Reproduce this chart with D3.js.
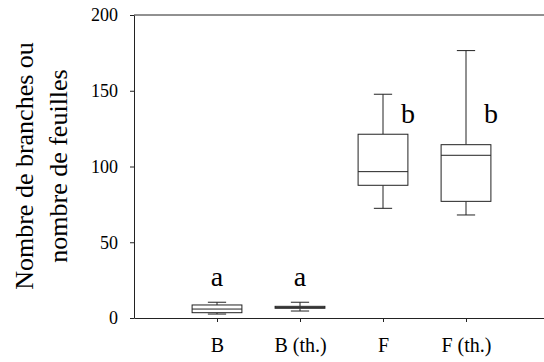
<!DOCTYPE html>
<html><head><meta charset="utf-8">
<script src="https://cdn.jsdelivr.net/npm/d3@7"></script>
<style>body{margin:0;background:#fff}svg{display:block}</style>
</head><body><svg id="c" width="544" height="362"></svg>
<script>
const categories = ["B", "B (th.)", "F", "F (th.)"];
const whiskerMin = [2.6, 4.6, 72.4, 68];
const q1 = [3.5, 6.4, 87.6, 77];
const median = [5.9, 7.0, 96.6, 107.4];
const q3 = [8.6, 7.7, 121.3, 114.4];
const whiskerMax = [10.4, 10.4, 147.7, 176.5];
const letters = ["a", "a", "b", "b"];
const letterValue = [21, 21, 129, 129];
const yTicks = [0, 50, 100, 150, 200];
const yTitle = ["Nombre de branches ou", "nombre de feuilles"];

const FONT = "Liberation Serif";
const svg = d3.select("#c");
const x = d3.scalePoint().domain(categories).range([134, 549]).padding(1);
const y = d3.scaleLinear().domain([0, 200]).range([318, 15]);
const step = x.step();
const boxW = step * 0.6, capW = step * 0.22;
const col = "#222";

svg.append("line").attr("x1", x.range()[0]).attr("x2", x.range()[1])
  .attr("y1", y(200)).attr("y2", y(200)).attr("stroke", col).attr("stroke-width", 1);

const yAxis = svg.append("g").attr("transform", `translate(${x.range()[0]},0)`)
  .call(d3.axisLeft(y).tickValues(yTicks).tickSize(4).tickSizeOuter(0).tickPadding(12));
yAxis.attr("font-family", FONT).attr("font-size", 18);
yAxis.selectAll("text").style("font-family", FONT).style("font-size", "18px");
const xAxis = svg.append("g").attr("transform", `translate(0,${y(0)})`)
  .call(d3.axisBottom(x).tickSize(4).tickSizeOuter(0).tickPadding(16));
xAxis.attr("font-family", FONT).attr("font-size", 20);
xAxis.selectAll("text").style("font-family", FONT).style("font-size", "20px");
svg.selectAll(".domain, .tick line").attr("stroke", col);
svg.selectAll(".tick text").attr("fill", "#000");

const data = categories.map((c, i) => ({c, lo: whiskerMin[i], q1: q1[i], med: median[i], q3: q3[i], hi: whiskerMax[i]}));
const g = svg.append("g").attr("stroke", col).attr("stroke-width", 1).attr("fill", "none");
data.forEach(d => {
  const cx = x(d.c);
  g.append("line").attr("x1", cx).attr("x2", cx).attr("y1", y(d.hi)).attr("y2", y(d.q3));
  g.append("line").attr("x1", cx).attr("x2", cx).attr("y1", y(d.q1)).attr("y2", y(d.lo));
  g.append("line").attr("x1", cx - capW/2).attr("x2", cx + capW/2).attr("y1", y(d.hi)).attr("y2", y(d.hi));
  g.append("line").attr("x1", cx - capW/2).attr("x2", cx + capW/2).attr("y1", y(d.lo)).attr("y2", y(d.lo));
  g.append("rect").attr("x", cx - boxW/2).attr("width", boxW)
    .attr("y", y(d.q3)).attr("height", y(d.q1) - y(d.q3)).attr("fill", "#fff");
  g.append("line").attr("x1", cx - boxW/2).attr("x2", cx + boxW/2).attr("y1", y(d.med)).attr("y2", y(d.med));
});

categories.forEach((c, i) => {
  svg.append("text").attr("x", x(c) + (letters[i] === "b" ? 25 : 0)).attr("y", y(letterValue[i]))
    .attr("text-anchor", "middle").style("font-family", FONT).style("font-size", "28px").text(letters[i]);
});

const t = svg.append("text").attr("transform", "translate(33,166) rotate(-90)")
  .attr("text-anchor", "middle").style("font-family", FONT).style("font-size", "26px");
yTitle.forEach((s, i) => t.append("tspan").attr("x", 0).attr("dy", i ? 34 : 0).text(s));
</script></body></html>
